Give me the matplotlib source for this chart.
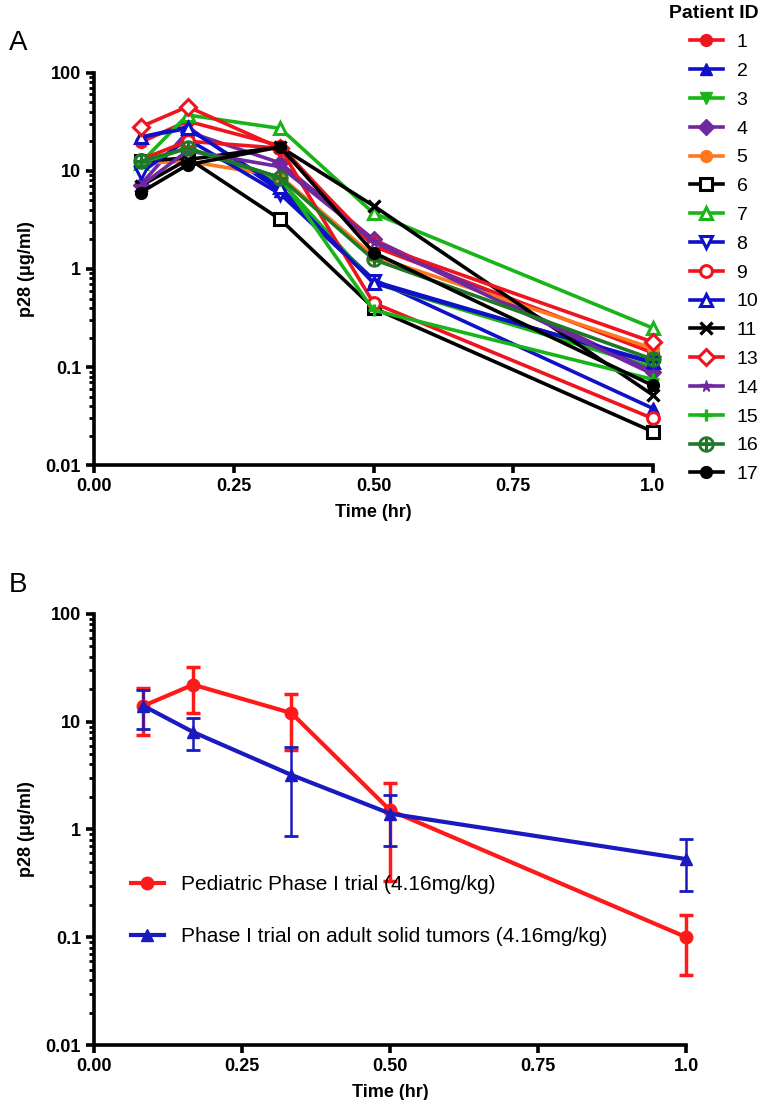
import matplotlib
matplotlib.use("Agg")
import matplotlib.pyplot as plt
from matplotlib.ticker import FixedLocator, LogLocator, NullFormatter, FuncFormatter

plt.rcParams['font.family'] = ['Liberation Sans', 'DejaVu Sans']

# tiempos de muestreo (hr)
t = [0.083, 0.167, 0.333, 0.5, 1.0]

# Panel A: concentraciones individuales por paciente (ug/ml)
patient_ids = ['1', '2', '3', '4', '5', '6', '7', '8', '9', '10', '11', '13', '14', '15', '16', '17']
p1 = [19.5, 32, 18, 1.7, 0.14]
p2 = [22, 28, 6.2, 0.78, 0.038]
p3 = [12, 17, 8.0, 0.72, 0.10]
p4 = [7.2, 25, 12, 2.0, 0.09]
p5 = [12, 12.5, 8.8, 1.35, 0.155]
p6 = [12.5, 13.5, 3.2, 0.40, 0.022]
p7 = [12, 37, 27, 3.7, 0.25]
p8 = [9.5, 21, 5.8, 0.75, 0.11]
p9 = [13, 20, 17, 0.45, 0.030]
p10 = [22, 27, 6.8, 0.72, 0.113]
p11 = [7.0, 13, 17.5, 4.4, 0.052]
p13 = [28, 45, 17, 1.8, 0.18]
p14 = [7.0, 16, 11, 1.9, 0.085]
p15 = [12, 17, 8.5, 0.38, 0.075]
p16 = [12.5, 17, 8.5, 1.25, 0.12]
p17 = [6.0, 11.5, 17.5, 1.47, 0.065]
patients = [p1, p2, p3, p4, p5, p6, p7, p8, p9, p10, p11, p13, p14, p15, p16, p17]

# Panel B: media y rango de error
ped_mean = [14, 22, 12, 1.5, 0.10]
ped_low = [7.5, 12, 5.5, 0.33, 0.045]
ped_high = [20.5, 32, 18, 2.7, 0.16]
adult_mean = [14, 8, 3.2, 1.4, 0.53]
adult_low = [8.5, 5.5, 0.87, 0.7, 0.27]
adult_high = [19.5, 10.8, 5.8, 2.1, 0.82]
labels_b = ['Pediatric Phase I trial (4.16mg/kg)',
            'Phase I trial on adult solid tumors (4.16mg/kg)']

RED = '#f0141e'
BLUE = '#1010c8'
GREEN = '#18b418'
PURPLE = '#7028a0'
ORANGE = '#ff7820'
DKGREEN = '#1e7828'
BLACK = '#000000'

# (color, marcador, relleno)
styles = [
    (RED, 'o', True), (BLUE, '^', True), (GREEN, 'v', True), (PURPLE, 'D', True),
    (ORANGE, 'o', True), (BLACK, 's', False), (GREEN, '^', False), (BLUE, 'v', False),
    (RED, 'o', False), (BLUE, '^', False), (BLACK, 'x', True), (RED, 'D', False),
    (PURPLE, '*', True), (GREEN, '+', True), (DKGREEN, r'$\oplus$', True), (BLACK, 'o', True),
]

fig = plt.figure(figsize=(7.6, 11), dpi=100)
axA = fig.add_axes([0.124, 0.577, 0.735, 0.357])
axB = fig.add_axes([0.124, 0.05, 0.779, 0.392])


def style_axis(ax):
    ax.set_yscale('log')
    ax.set_ylim(0.01, 100)
    ax.set_xlim(0, 1.0)
    for s in ['top', 'right']:
        ax.spines[s].set_visible(False)
    for s in ['left', 'bottom']:
        ax.spines[s].set_linewidth(2.6)
    ax.xaxis.set_major_locator(FixedLocator([0, 0.25, 0.5, 0.75, 1.0]))
    ax.set_xticklabels(['0.00', '0.25', '0.50', '0.75', '1.0'])
    ax.yaxis.set_major_locator(FixedLocator([0.01, 0.1, 1, 10, 100]))
    ax.yaxis.set_major_formatter(FuncFormatter(lambda v, p: f'{v:g}'))
    ax.yaxis.set_minor_locator(LogLocator(base=10, subs=range(2, 10)))
    ax.yaxis.set_minor_formatter(NullFormatter())
    ax.tick_params(which='major', length=6, width=2.6, direction='out', labelsize=13)
    ax.tick_params(which='minor', length=3.5, width=2.0, direction='out')
    for lab in ax.get_xticklabels() + ax.get_yticklabels():
        lab.set_fontweight('bold')
    ax.set_xlabel('Time (hr)', fontsize=13, fontweight='bold', labelpad=6)
    ax.set_ylabel('p28 (\u03bcg/ml)', fontsize=13, fontweight='bold', labelpad=8)


# Panel A
style_axis(axA)
for pid, vals, (col, mk, filled) in zip(patient_ids, patients, styles):
    kw = dict(color=col, lw=2.6, marker=mk, ms=8.5, label=pid, clip_on=False)
    if mk in ('x', '+'):
        kw.update(mew=2.4)
    elif mk.startswith('$'):
        kw.update(ms=11, mew=0.8)
    elif filled:
        kw.update(mfc=col, mec=col)
    else:
        kw.update(mfc='white', mec=col, mew=2.2)
    axA.plot(t, vals, **kw)

leg = axA.legend(loc='upper right', bbox_to_anchor=(0.998, 0.995), bbox_transform=fig.transFigure,
                 frameon=False, fontsize=14, handlelength=1.7, handletextpad=0.7,
                 labelspacing=0.575, borderaxespad=0, borderpad=0, title='Patient ID',
                 title_fontproperties={'weight': 'bold', 'size': 14})
leg._legend_box.align = 'right'

fig.text(0.012, 0.955, 'A', fontsize=20)

# Panel B
style_axis(axB)
ped_err = [[m - lo for m, lo in zip(ped_mean, ped_low)], [hi - m for m, hi in zip(ped_mean, ped_high)]]
adult_err = [[m - lo for m, lo in zip(adult_mean, adult_low)], [hi - m for m, hi in zip(adult_mean, adult_high)]]
eb1 = axB.errorbar(t, ped_mean, yerr=ped_err, color='#ff1a1a', lw=3, marker='o', ms=9,
                   capsize=5, capthick=2.5, elinewidth=2.5, clip_on=False)
eb2 = axB.errorbar(t, adult_mean, yerr=adult_err, color='#1a1ac0', lw=3, marker='^', ms=9,
                   capsize=5, capthick=2.0, elinewidth=1.8, clip_on=False)
axB.legend([eb1[0], eb2[0]], labels_b, loc='lower left', bbox_to_anchor=(0.03, 0.185), frameon=False,
           prop={'family': ['Liberation Sans Narrow', 'Liberation Sans'], 'size': 15},
           handlelength=1.6, labelspacing=1.6)

fig.text(0.012, 0.462, 'B', fontsize=20)

fig.savefig('out.png', dpi=100)
